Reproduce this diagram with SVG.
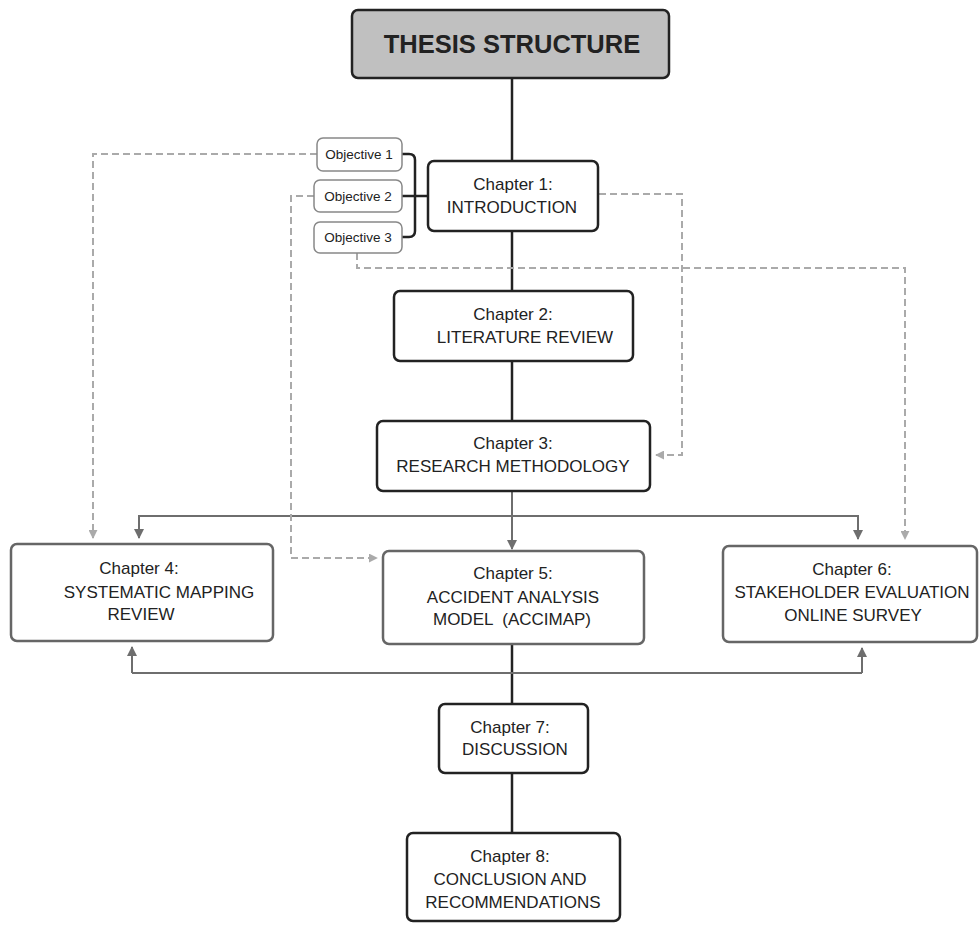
<svg xmlns="http://www.w3.org/2000/svg" width="979" height="925" viewBox="0 0 979 925">
  <style>
    .box { fill: #ffffff; stroke: #222222; stroke-width: 2.5; }
    .boxg { fill: #ffffff; stroke: #666666; stroke-width: 2.5; }
    .obj { fill: #ffffff; stroke: #888888; stroke-width: 1.5; }
    .title { fill: #c0c0c0; stroke: #222222; stroke-width: 2.5; }
    text { font-family: "Liberation Sans", Arial, sans-serif; fill: #222222; text-anchor: middle; }
    .t { font-size: 17px; }
    .o { font-size: 13.5px; }
    .h { font-size: 25.5px; font-weight: bold; }
    .main { fill: none; stroke: #222222; stroke-width: 2.5; }
    .solid { fill: none; stroke: #6e6e6e; stroke-width: 2; }
    .dash { fill: none; stroke: #aaaaaa; stroke-width: 2; stroke-dasharray: 7 4; }
  </style>
  <defs>
    <marker id="arrG" viewBox="0 0 10 10" refX="9" refY="5" markerWidth="5" markerHeight="5" orient="auto" markerUnits="strokeWidth">
      <path d="M0,0 L10,5 L0,10 z" fill="#6e6e6e"/>
    </marker>
    <marker id="arrD" viewBox="0 0 10 10" refX="9" refY="5" markerWidth="4.5" markerHeight="4.5" orient="auto" markerUnits="strokeWidth">
      <path d="M0,0 L10,5 L0,10 z" fill="#aaaaaa"/>
    </marker>
  </defs>

  <!-- connectors -->
  <g id="connectors">
    <!-- main spine -->
    <path class="main" d="M512,78 V161"/>
    <path class="main" d="M512,231 V291"/>
    <path class="main" d="M512,361 V421"/>
    <path class="main" d="M512,644 V704"/>
    <path class="main" d="M512,773 V833"/>
    <!-- objectives bracket -->
    <path class="main" d="M402,154 H409 Q415,154 415,160 V231 Q415,237 409,237 H402"/>
    <path class="main" d="M402,196 H428"/>
    <!-- chapter 3 to chapters 4, 5, 6 -->
    <path class="solid" d="M512,491 V549" marker-end="url(#arrG)"/>
    <path class="solid" d="M139,537 V516 H858 V537" />
    <path class="solid" d="M139,520 V538" marker-end="url(#arrG)"/>
    <path class="solid" d="M858,520 V539" marker-end="url(#arrG)"/>
    <!-- feedback between chapters 4 and 6 -->
    <path class="solid" d="M132,673 H862"/>
    <path class="solid" d="M132,673 V647" marker-end="url(#arrG)"/>
    <path class="solid" d="M862,673 V648" marker-end="url(#arrG)"/>
    <!-- objective links -->
    <path class="dash" d="M317,154 H93 V538" marker-end="url(#arrD)"/>
    <path class="dash" d="M314,196 H291 V558 H377" marker-end="url(#arrD)"/>
    <path class="dash" d="M357,253 V268 H905 V539" marker-end="url(#arrD)"/>
    <path class="dash" d="M599,194 H682 V455 H656" marker-end="url(#arrD)"/>
  </g>

  <g id="title">
    <rect class="title" x="352" y="10" width="317" height="68" rx="6"/>
    <text class="h" x="512" y="53">THESIS STRUCTURE</text>
  </g>

  <g id="objective1">
    <rect class="obj" x="317" y="138" width="85" height="33" rx="6"/>
    <text class="o" x="359" y="159">Objective 1</text>
  </g>
  <g id="objective2">
    <rect class="obj" x="314" y="180" width="88" height="32" rx="6"/>
    <text class="o" x="358" y="201">Objective 2</text>
  </g>
  <g id="objective3">
    <rect class="obj" x="314" y="222" width="88" height="31" rx="6"/>
    <text class="o" x="358" y="242">Objective 3</text>
  </g>

  <g id="chapter1">
    <rect class="box" x="428" y="161" width="170" height="70" rx="6"/>
    <text class="t" x="513" y="190">Chapter 1:</text>
    <text class="t" x="512" y="213">INTRODUCTION</text>
  </g>

  <g id="chapter2">
    <rect class="box" x="394" y="291" width="239" height="70" rx="6"/>
    <text class="t" x="513" y="320">Chapter 2:</text>
    <text class="t" x="525" y="343">LITERATURE REVIEW</text>
  </g>

  <g id="chapter3">
    <rect class="box" x="377" y="421" width="273" height="70" rx="6"/>
    <text class="t" x="513" y="449">Chapter 3:</text>
    <text class="t" x="513" y="472">RESEARCH METHODOLOGY</text>
  </g>

  <g id="chapter4">
    <rect class="boxg" x="11" y="544" width="262" height="97" rx="6"/>
    <text class="t" x="139" y="574">Chapter 4:</text>
    <text class="t" x="159" y="598">SYSTEMATIC MAPPING</text>
    <text class="t" x="141" y="620">REVIEW</text>
  </g>

  <g id="chapter5">
    <rect class="boxg" x="383" y="551" width="261" height="93" rx="6"/>
    <text class="t" x="513" y="579">Chapter 5:</text>
    <text class="t" x="513" y="603">ACCIDENT ANALYSIS</text>
    <text class="t" x="512" y="625" xml:space="preserve">MODEL  (ACCIMAP)</text>
  </g>

  <g id="chapter6">
    <rect class="boxg" x="723" y="546" width="254" height="96" rx="6"/>
    <text class="t" x="852" y="575">Chapter 6:</text>
    <text class="t" x="852" y="598">STAKEHOLDER EVALUATION</text>
    <text class="t" x="853" y="621">ONLINE SURVEY</text>
  </g>

  <g id="chapter7">
    <rect class="box" x="439" y="704" width="149" height="69" rx="6"/>
    <text class="t" x="510" y="733">Chapter 7:</text>
    <text class="t" x="515" y="755">DISCUSSION</text>
  </g>

  <g id="chapter8">
    <rect class="box" x="407" y="833" width="213" height="88" rx="6"/>
    <text class="t" x="510" y="862">Chapter 8:</text>
    <text class="t" x="510" y="885">CONCLUSION AND</text>
    <text class="t" x="513" y="908">RECOMMENDATIONS</text>
  </g>
</svg>
